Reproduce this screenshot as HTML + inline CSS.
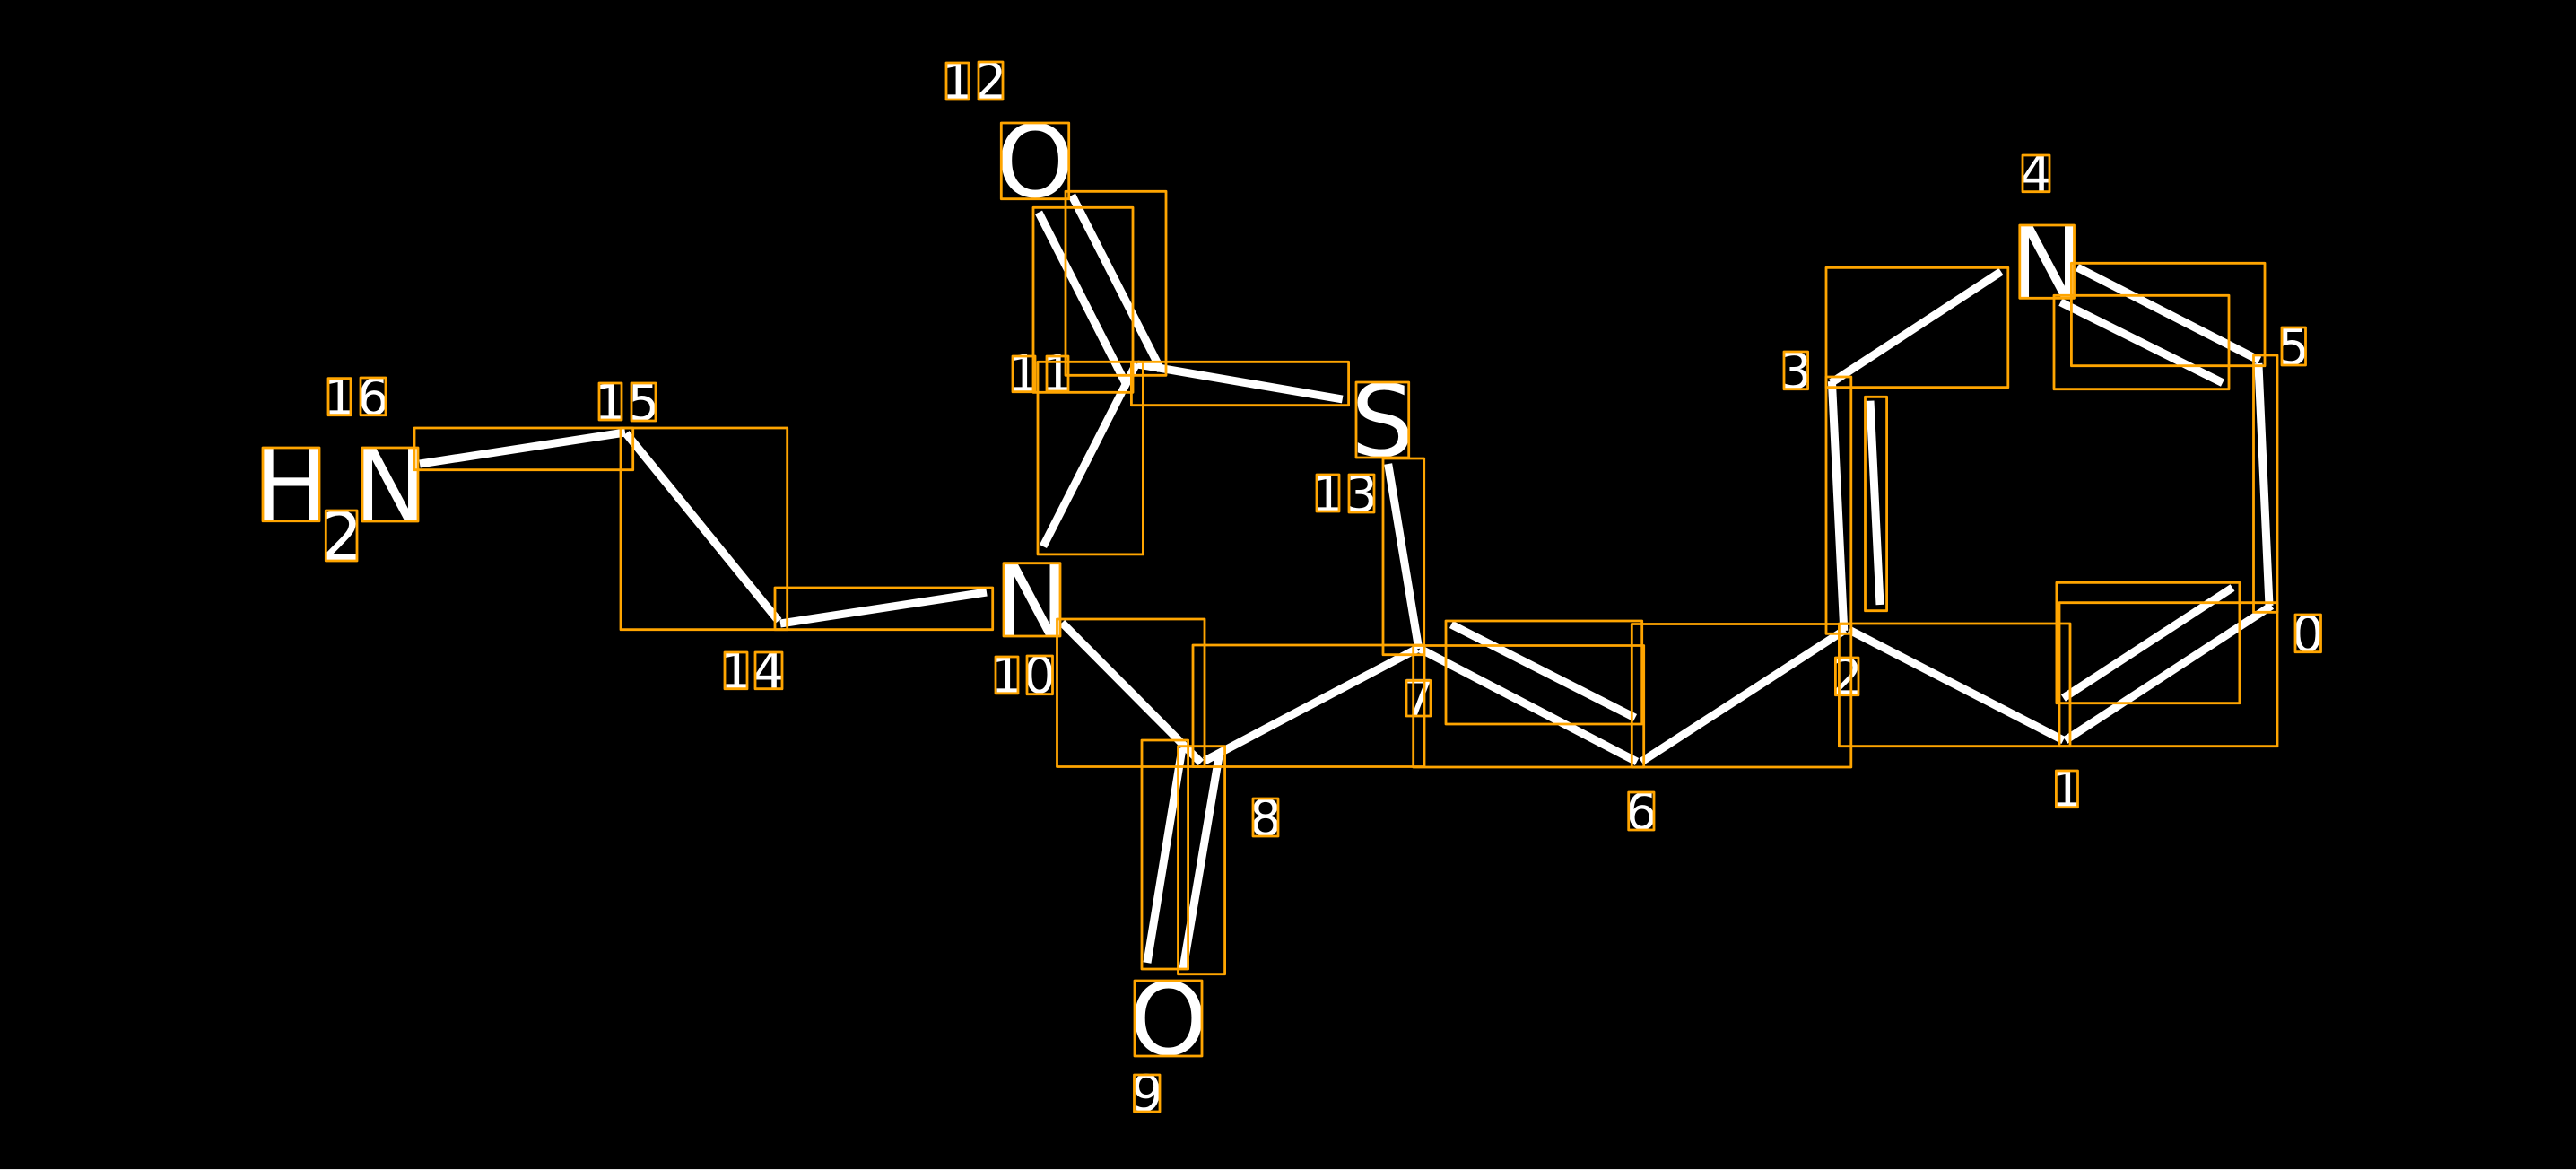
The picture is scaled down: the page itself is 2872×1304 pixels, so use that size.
<!DOCTYPE html>
<html>
<head>
<meta charset="utf-8">
<style>
html,body{margin:0;padding:0;background:#000;width:2872px;height:1304px;overflow:hidden}
svg{display:block}
text{font-family:"DejaVu Sans",sans-serif;fill:#fff;text-anchor:middle}
.a{font-size:111px}
.s{font-size:75px}
.d{font-size:56px}
line{stroke:#fff;stroke-width:9;stroke-linecap:butt}
rect{fill:none;stroke:#ffa500;stroke-width:2.8;stroke-linejoin:round}
</style>
</head>
<body>
<svg width="2872" height="1304" viewBox="0 0 2872 1304" xmlns="http://www.w3.org/2000/svg">
<rect x="0" y="0" width="2872" height="1304" style="fill:#000;stroke:none"/>
<rect x="0" y="1303" width="2872" height="1" style="fill:#e8e8e8;stroke:none"/>
<g>
<line x1="468" y1="517" x2="697" y2="482"/>
<line x1="698" y1="483" x2="868" y2="692"/>
<line x1="870" y1="695" x2="1100" y2="660"/>
<line x1="1184" y1="694" x2="1339" y2="850"/>
<line x1="1343" y1="848" x2="1580" y2="723"/>
<line x1="1279" y1="1073" x2="1318" y2="834"/>
<line x1="1319" y1="1080" x2="1360" y2="837"/>
<line x1="1547.7" y1="517" x2="1581.7" y2="723"/>
<line x1="1583" y1="723" x2="1825" y2="849"/>
<line x1="1618" y1="696" x2="1823" y2="800"/>
<line x1="1830" y1="849" x2="2057" y2="702"/>
<line x1="2042.4" y1="425" x2="2055.8" y2="703"/>
<line x1="2085" y1="446.7" x2="2096" y2="674"/>
<line x1="2061.6" y1="702" x2="2300.4" y2="825"/>
<line x1="2302.7" y1="825" x2="2532.6" y2="675"/>
<line x1="2300.4" y1="778" x2="2489" y2="655"/>
<line x1="2517.9" y1="405" x2="2530" y2="675"/>
<line x1="2231" y1="302.7" x2="2041.5" y2="426.7"/>
<line x1="2316" y1="298" x2="2519" y2="401.7"/>
<line x1="2297.3" y1="336.7" x2="2478" y2="426.7"/>
<line x1="1158" y1="236.7" x2="1256.4" y2="430"/>
<line x1="1195" y1="217.7" x2="1294.7" y2="413"/>
<line x1="1163" y1="609" x2="1267" y2="405"/>
<line x1="1268" y1="406" x2="1496.7" y2="445"/>
</g>
<g>
<text class="a" x="324.5" y="580">H</text>
<text class="s" x="380.5" y="624">2</text>
<text class="a" x="435" y="580">N</text>
<text class="a" x="1150.5" y="709">N</text>
<text class="a" x="1154" y="219">O</text>
<text class="a" x="1302.5" y="1175">O</text>
<text class="a" x="1541.5" y="508">S</text>
<text class="a" x="2282" y="332">N</text>
<text class="d" x="378.5" y="462">1</text>
<text class="d" x="416" y="462">6</text>
<text class="d" x="680.5" y="468">1</text>
<text class="d" x="717.5" y="468">5</text>
<text class="d" x="820.5" y="767">1</text>
<text class="d" x="857" y="767">4</text>
<text class="d" x="1122.5" y="772">1</text>
<text class="d" x="1159" y="772">0</text>
<text class="d" x="1067.5" y="110">1</text>
<text class="d" x="1104.5" y="110">2</text>
<text class="d" x="1141.5" y="436">1</text>
<text class="d" x="1179" y="436">1</text>
<text class="d" x="1480.5" y="570">1</text>
<text class="d" x="1518" y="570">3</text>
<text class="d" x="1278.7" y="1238">9</text>
<text class="d" x="1411" y="931">8</text>
<text class="d" x="1581.5" y="798">7</text>
<text class="d" x="1830" y="924">6</text>
<text class="d" x="2059" y="774">2</text>
<text class="d" x="2573" y="726">0</text>
<text class="d" x="2304.5" y="899">1</text>
<text class="d" x="2557" y="406">5</text>
<text class="d" x="2002" y="433">3</text>
<text class="d" x="2270" y="213">4</text>
</g>
<g>
<rect x="293" y="499" width="63" height="81.7"/>
<rect x="363.3" y="569" width="34.7" height="56"/>
<rect x="404" y="499" width="62" height="82"/>
<rect x="366" y="421.7" width="25" height="41"/>
<rect x="402" y="421" width="28" height="41.7"/>
<rect x="668" y="427" width="25" height="41"/>
<rect x="704" y="427" width="27" height="42"/>
<rect x="462" y="477" width="243.7" height="46.7"/>
<rect x="692" y="477" width="185.7" height="224.7"/>
<rect x="864" y="655" width="242.7" height="46.7"/>
<rect x="808" y="727" width="25" height="40.7"/>
<rect x="842" y="727" width="30" height="40.7"/>
<rect x="1110" y="732" width="25" height="40.8"/>
<rect x="1145" y="731" width="28.5" height="42.7"/>
<rect x="1119" y="627.7" width="63" height="81.3"/>
<rect x="1178.5" y="690" width="164.5" height="164.5"/>
<rect x="1330" y="719" width="258" height="135.5"/>
<rect x="1273" y="825" width="51.6" height="255"/>
<rect x="1313.5" y="831.7" width="52.1" height="254"/>
<rect x="1265" y="1093" width="75" height="84"/>
<rect x="1264.5" y="1198" width="28.5" height="41"/>
<rect x="1397" y="890" width="28" height="42"/>
<rect x="1568" y="758.5" width="27" height="39.5"/>
<rect x="1512" y="426" width="58.7" height="84"/>
<rect x="1468" y="529" width="25" height="41"/>
<rect x="1504" y="529" width="28" height="42"/>
<rect x="1542" y="511" width="45.7" height="218.7"/>
<rect x="1575.7" y="719.5" width="257" height="135.5"/>
<rect x="1612" y="692" width="218.7" height="115"/>
<rect x="1819.3" y="695.5" width="244.5" height="159.5"/>
<rect x="1815.7" y="883" width="28.3" height="42"/>
<rect x="2036" y="420" width="27.8" height="286.3"/>
<rect x="2079.5" y="442.3" width="24.1" height="238.4"/>
<rect x="2046.4" y="733" width="25.6" height="41.7"/>
<rect x="2050.4" y="695" width="257.6" height="136.7"/>
<rect x="2296" y="671.7" width="243" height="160"/>
<rect x="2292.9" y="649.3" width="204" height="134.4"/>
<rect x="2559" y="685" width="28.5" height="41.7"/>
<rect x="2292.4" y="859" width="24.1" height="40.7"/>
<rect x="2512.5" y="396" width="26.5" height="286.3"/>
<rect x="2255" y="173" width="30" height="40.7"/>
<rect x="2251.8" y="251" width="60.7" height="81.3"/>
<rect x="2036" y="298.3" width="202.8" height="133.4"/>
<rect x="2309.4" y="293.3" width="215.6" height="114.4"/>
<rect x="2290" y="329.3" width="195" height="104.4"/>
<rect x="2544" y="365" width="26.5" height="42"/>
<rect x="1989" y="392" width="26.6" height="41.7"/>
<rect x="1055" y="70" width="25" height="41"/>
<rect x="1091" y="69" width="27" height="42"/>
<rect x="1116.3" y="137" width="75.4" height="84.7"/>
<rect x="1152" y="231.3" width="111" height="206"/>
<rect x="1188" y="213.3" width="112" height="205"/>
<rect x="1129" y="397" width="25" height="39.7"/>
<rect x="1167" y="397" width="24" height="39"/>
<rect x="1157" y="403.3" width="117.4" height="214.6"/>
<rect x="1261.4" y="403.3" width="242.2" height="48.4"/>
</g>
</svg>
</body>
</html>
